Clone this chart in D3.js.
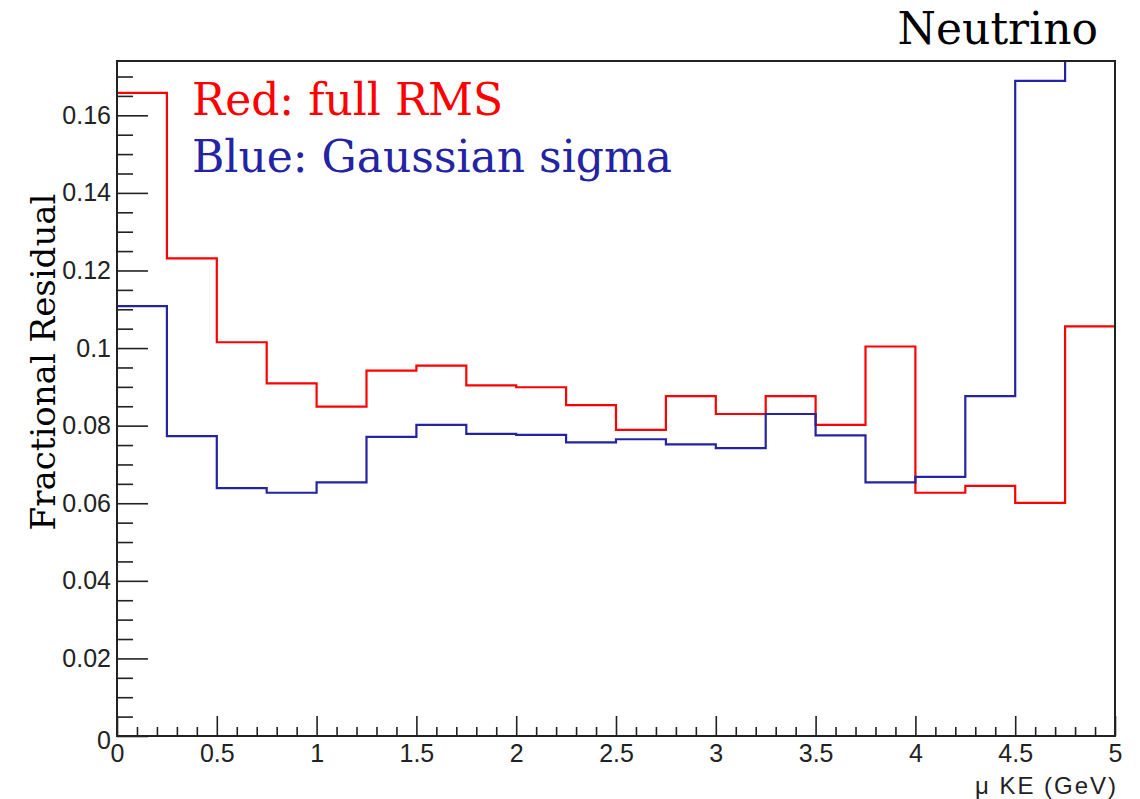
<!DOCTYPE html>
<html>
<head>
<meta charset="utf-8">
<script src="https://cdn.jsdelivr.net/npm/d3@7"></script>
<style>
	body { margin: 0; background: #fff; }
	svg { display: block; }
	.tick text { font-family: "Liberation Sans", Arial, sans-serif; fill: #222; }
</style>
</head>
<body>
<svg></svg>
<script>
/* 数据: 每个 bin 的下沿 (GeV) 与两条直方图的值 */
const binLow = [0, 0.25, 0.5, 0.75, 1, 1.25, 1.5, 1.75, 2, 2.25,
	2.5, 2.75, 3, 3.25, 3.5, 3.75, 4, 4.25, 4.5, 4.75];
const binHigh = 5;
const redValues = [0.1658, 0.1231, 0.1015, 0.0909, 0.0849, 0.0942, 0.0955, 0.0904, 0.0899, 0.0853,
	0.0789, 0.0876, 0.0830, 0.0876, 0.0802, 0.1004, 0.0627, 0.0645, 0.0601, 0.1056];
const blueValues = [0.1108, 0.0773, 0.0639, 0.0627, 0.0654, 0.0771, 0.0802, 0.0779, 0.0776, 0.0757,
	0.0765, 0.0752, 0.0742, 0.0830, 0.0775, 0.0654, 0.0668, 0.0876, 0.1689, 0.2000];

const xMajorTicks = [0, 0.5, 1, 1.5, 2, 2.5, 3, 3.5, 4, 4.5, 5];
const yMajorTicks = [0, 0.02, 0.04, 0.06, 0.08, 0.1, 0.12, 0.14, 0.16];
const xDomain = [0, 5];
const yDomain = [0, 0.174];

const titleText = 'Neutrino';
const legendLines = ['Red: full RMS', 'Blue: Gaussian sigma'];
const xTitle = 'μ KE (GeV)';
const yTitle = 'Fractional Residual';

/* 常参数定义 */
const svgWidth = 1140, svgHeight = 799;
const frame = {'L': 117, 'R': 1115, 'T': 61, 'B': 736};
const redColor = '#ff0000', blueColor = '#2323a3';
const serif = '"DejaVu Serif", serif';
const sans = '"Liberation Sans", Arial, sans-serif';

const svg = d3.select('svg')
	.attr('width', svgWidth)
	.attr('height', svgHeight);

const x = d3.scaleLinear().domain(xDomain).range([frame.L, frame.R]);
const y = d3.scaleLinear().domain(yDomain).range([frame.B, frame.T]);

svg.append('defs').append('clipPath')
	.attr('id', 'frameClip')
	.append('rect')
	.attr('x', frame.L)
	.attr('y', frame.T)
	.attr('width', frame.R - frame.L)
	.attr('height', frame.B - frame.T);

/* 刻度: 主刻度带标签, 次刻度不带 */
const fmt = (d) => String(+d.toFixed(3));
const xMinor = d3.range(0, 5.0001, 0.1).map((d) => +d.toFixed(2))
	.filter((d) => !xMajorTicks.includes(d));
const yMinor = d3.range(0, 0.1741, 0.005).map((d) => +d.toFixed(3))
	.filter((d) => !yMajorTicks.includes(d));

svg.append('g')
	.attr('transform', `translate(0,${frame.B})`)
	.call(d3.axisBottom(x).tickValues(xMinor).tickSize(-9).tickFormat(''))
	.call((g) => g.select('.domain').remove())
	.selectAll('line').attr('stroke', '#222').attr('stroke-width', 1.6);
const xAxis = svg.append('g')
	.attr('transform', `translate(0,${frame.B})`)
	.call(d3.axisBottom(x).tickValues(xMajorTicks).tickSize(-20).tickPadding(8).tickFormat(fmt));
xAxis.select('.domain').remove();
xAxis.selectAll('line').attr('stroke', '#222').attr('stroke-width', 1.6);
xAxis.selectAll('text').style('font-size', '25px');

svg.append('g')
	.attr('transform', `translate(${frame.L},0)`)
	.call(d3.axisLeft(y).tickValues(yMinor).tickSize(-16).tickFormat(''))
	.call((g) => g.select('.domain').remove())
	.selectAll('line').attr('stroke', '#222').attr('stroke-width', 1.6);
const yAxis = svg.append('g')
	.attr('transform', `translate(${frame.L},0)`)
	.call(d3.axisLeft(y).tickValues(yMajorTicks).tickSize(-31).tickPadding(6).tickFormat(fmt));
yAxis.select('.domain').remove();
yAxis.selectAll('line').attr('stroke', '#222').attr('stroke-width', 1.6);
yAxis.selectAll('text').style('font-size', '25px');
/* ROOT 把纵轴的 0 稍微往下放 */
yAxis.selectAll('.tick').filter((d) => d === 0).select('text').attr('dy', '0.5em');

/* 直方图 (阶梯线) */
const stepLine = d3.line()
	.x((d) => x(d[0]))
	.y((d) => y(d[1]))
	.curve(d3.curveStepAfter);
function histPoints(values) {
	let pts = binLow.map((lo, i) => [lo, values[i]]);
	pts.push([binHigh, values[values.length - 1]]);
	return pts;
}
const hists = svg.append('g').attr('clip-path', 'url(#frameClip)');
[[redValues, redColor], [blueValues, blueColor]].forEach(function (h) {
	hists.append('path')
		.attr('d', stepLine(histPoints(h[0])))
		.attr('fill', 'none')
		.attr('stroke', h[1])
		.attr('stroke-width', 2.2);
});

/* 边框 */
svg.append('rect')
	.attr('x', frame.L)
	.attr('y', frame.T)
	.attr('width', frame.R - frame.L)
	.attr('height', frame.B - frame.T)
	.attr('fill', 'none')
	.attr('stroke', '#222')
	.attr('stroke-width', 2);

/* 文字 */
svg.append('text')
	.attr('x', 1098)
	.attr('y', 44)
	.attr('text-anchor', 'end')
	.style('font-family', serif)
	.style('font-size', '44px')
	.text(titleText);

svg.selectAll('.legendText')
	.data(legendLines)
	.enter()
	.append('text')
	.attr('class', 'legendText')
	.attr('x', 192)
	.attr('y', (d, i) => 115 + i * 57)
	.attr('fill', (d, i) => i === 0 ? redColor : blueColor)
	.style('font-family', serif)
	.style('font-size', '44px')
	.text((d) => d);

svg.append('text')
	.attr('x', 1116)
	.attr('y', 794)
	.attr('text-anchor', 'end')
	.attr('fill', '#222')
	.style('font-family', sans)
	.style('font-size', '24px')
	.attr('textLength', 141)
	.attr('lengthAdjust', 'spacing')
	.text(xTitle);

svg.append('text')
	.attr('transform', 'translate(55,362) rotate(-90)')
	.attr('text-anchor', 'middle')
	.style('font-family', serif)
	.style('font-size', '34px')
	.text(yTitle);
</script>
</body>
</html>
